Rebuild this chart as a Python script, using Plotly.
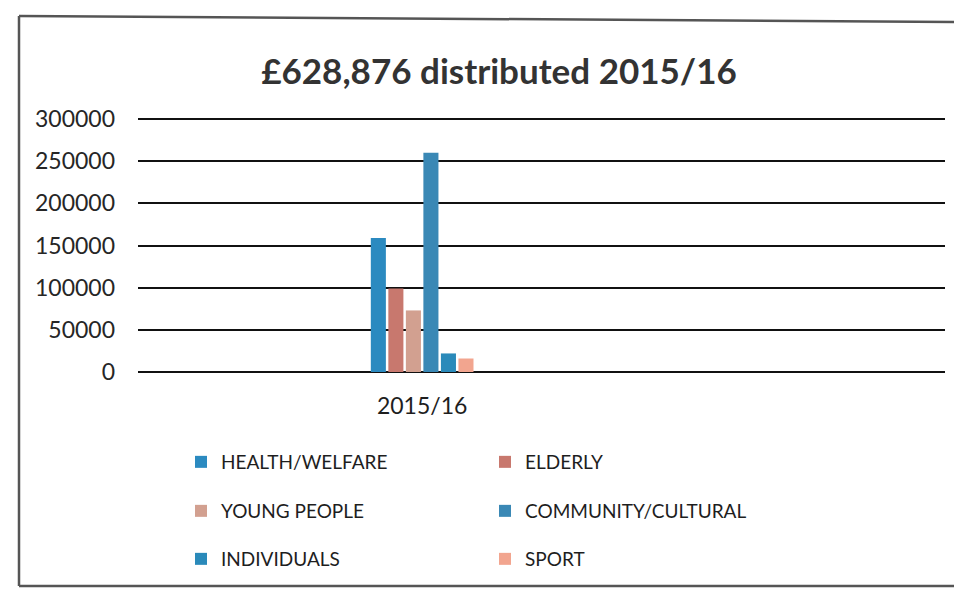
import plotly.graph_objects as go

categories = ["2015/16"]
series_names = ["HEALTH/WELFARE", "ELDERLY", "YOUNG PEOPLE",
                "COMMUNITY/CULTURAL", "INDIVIDUALS", "SPORT"]
series_values = [159000, 99000, 73000, 260000, 22000, 16000]
series_colors = ["#2B8AC0", "#C8786E", "#D2A090", "#3A88B5", "#2A8ABA", "#F2A58F"]
legend_ids = ["legend", "legend", "legend2", "legend2", "legend3", "legend3"]
y_ticks = [0, 50000, 100000, 150000, 200000, 250000, 300000]
title_text = "£628,876 distributed 2015/16"

FONT = "Lato, 'Open Sans', sans-serif"

fig = go.Figure()
for name, val, col, lg in zip(series_names, series_values, series_colors, legend_ids):
    fig.add_trace(go.Bar(x=categories, y=[val], name=name,
                         marker=dict(color=col, line=dict(width=0)),
                         legend=lg))

# figure sized to fit inside the 962x596 window with the page's 8px body margin
W, H = 954, 580
OFF = 8  # page body margin offset: target page coords -> figure coords

# target page-pixel geometry of the plot area
Y_TOP_PX, Y_ZERO_PX = 119, 372
X_LEFT_PX, X_RIGHT_PX = 138, 945
YMAX = 300000
PAD = 1200  # extend range slightly so edge gridlines are drawn
ppu = (Y_ZERO_PX - Y_TOP_PX) / YMAX
T = round(Y_TOP_PX - PAD * ppu) - OFF
Bpx = round(Y_ZERO_PX + PAD * ppu) - OFF
L = X_LEFT_PX - OFF
R = W - (X_RIGHT_PX - OFF)
B = H - Bpx


def cx(px):
    return (px - OFF) / W


def cy(py):
    return 1 - (py - OFF) / H


legend_common = dict(orientation="h", font=dict(family=FONT, size=19, color="#1e1e1e"),
                     entrywidth=259, entrywidthmode="pixels",
                     bgcolor="rgba(0,0,0,0)", xref="container", yref="container",
                     xanchor="left", yanchor="middle", itemclick=False)

fig.update_layout(
    width=W, height=H,
    margin=dict(l=L, r=R, t=T, b=B, autoexpand=False),
    paper_bgcolor="white", plot_bgcolor="white",
    barmode="group", bargap=0.815, bargroupgap=0.14,
    title=dict(text="<b>" + title_text + "</b>", x=cx(499), y=cy(72),
               xref="container", yref="container", xanchor="center", yanchor="middle",
               font=dict(family=FONT, size=35, color="#333333")),
    xaxis=dict(range=[-0.5, 0.92], showgrid=False, zeroline=False, showline=False,
               ticks="", tickfont=dict(family=FONT, size=23, color="#1e1e1e"),
               ticklabelstandoff=17),
    yaxis=dict(range=[-PAD, YMAX + PAD], tickvals=y_ticks, ticktext=[str(v) for v in y_ticks],
               showgrid=True, gridcolor="#111111", gridwidth=2, zeroline=False,
               showline=False, ticks="", tickfont=dict(family=FONT, size=23, color="#262626"),
               ticklabelstandoff=22),
    legend=dict(legend_common, x=cx(181), y=cy(462)),
    legend2=dict(legend_common, x=cx(181), y=cy(511)),
    legend3=dict(legend_common, x=cx(181), y=cy(559)),
    showlegend=True,
)

# chart frame (scanned chart border: top, left and bottom edges only)
pw, ph = W - L - R, H - T - B


def px_x(p):
    return (p - OFF - L) / pw


def px_y(p):
    return ((H - B) - (p - OFF)) / ph


frame_style = dict(color="#555555", width=2.5)
frame_segments = [((19, 16), (960, 22)), ((19, 16), (19, 586)), ((19, 586), (960, 586))]
for (xa, ya), (xb, yb) in frame_segments:
    fig.add_shape(type="line", xref="paper", yref="paper",
                  x0=px_x(xa), y0=px_y(ya), x1=px_x(xb), y1=px_y(yb),
                  line=frame_style, layer="below")

fig.write_html("out.html")
